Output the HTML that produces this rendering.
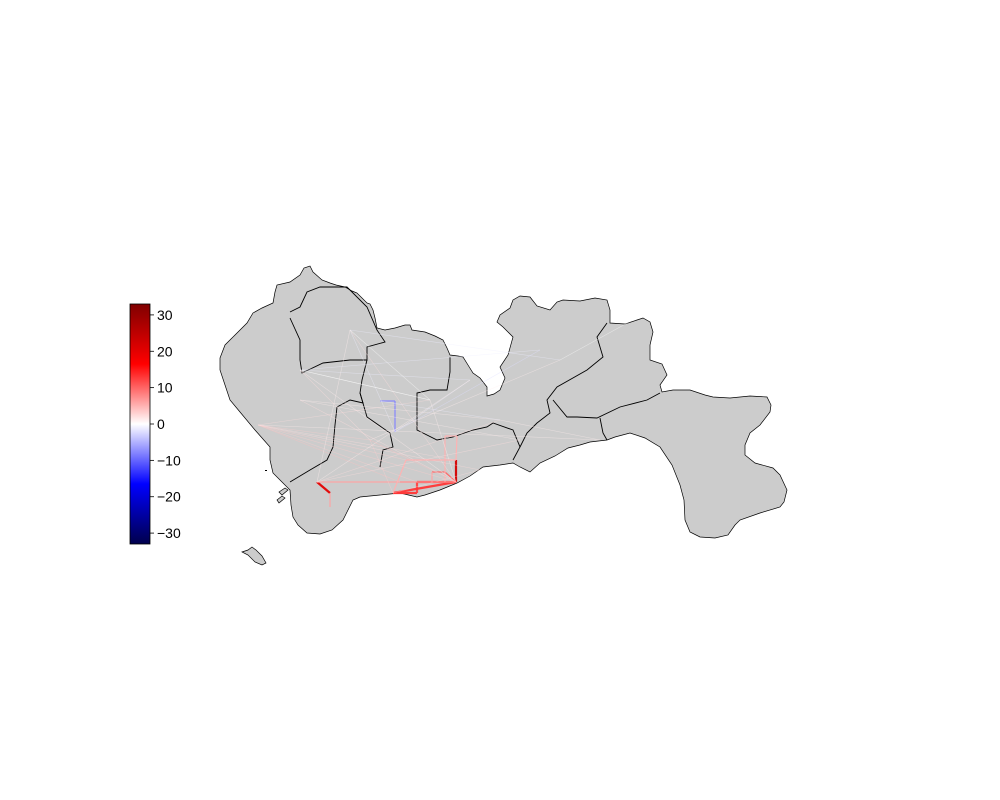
<!DOCTYPE html>
<html><head><meta charset="utf-8"><style>
html,body{margin:0;padding:0;background:#fff;}
svg{display:block;font-family:"Liberation Sans","DejaVu Sans",sans-serif;}
</style></head><body>
<svg id="chart" width="1000" height="800" viewBox="0 0 1000 800">
<defs>
<linearGradient id="seis" x1="0" y1="1" x2="0" y2="0">
<stop offset="0" stop-color="#00004c"/>
<stop offset="0.25" stop-color="#0000ff"/>
<stop offset="0.5" stop-color="#ffffff"/>
<stop offset="0.75" stop-color="#ff0000"/>
<stop offset="1" stop-color="#800000"/>
</linearGradient>
</defs>
<g id="map">
<path fill="#cccccc" stroke="#000" stroke-width="0.7" d="M220,358 L225,345 L232,338 L247,323 L253,313 L262,308 L273,303 L275,292 L277,285 L290,282 L300,275 L304,268 L310,266 L313,272 L322,280 L330,283 L336,285 L345,287 L352,291 L357,293 L362,298 L367,303 L370,304 L373,310 L375,318 L377,328 L385,330 L395,328 L405,325 L410,325 L412,330 L425,332 L435,336 L443,340 L447,348 L450,355 L458,356 L463,357 L468,365 L473,373 L480,378 L487,387 L487,396 L494,394 L500,390 L505,378 L500,367 L508,355 L513,337 L503,327 L497,322 L500,315 L510,308 L513,300 L520,296 L530,297 L537,306 L550,310 L557,302 L563,300 L580,301 L595,298 L607,300 L610,310 L610,323 L625,324 L637,320 L643,318 L650,322 L653,332 L650,345 L650,360 L662,364 L667,375 L660,385 L662,392 L673,390 L690,390 L705,395 L713,397 L730,398 L750,396 L767,397 L771,405 L770,412 L760,425 L750,433 L745,445 L745,455 L755,463 L773,468 L780,475 L787,490 L784,502 L780,507 L760,513 L740,520 L735,525 L728,535 L715,538 L700,537 L690,532 L685,520 L684,500 L680,485 L672,465 L660,447 L645,438 L630,433 L615,437 L607,440 L590,442 L580,445 L568,448 L555,456 L540,463 L530,472 L520,467 L513,463 L500,465 L483,467 L470,476 L457,483 L440,490 L425,495 L417,497 L400,493 L380,495 L360,497 L353,500 L348,510 L343,520 L332,530 L320,534 L307,533 L298,525 L293,517 L291,505 L290,490 L280,480 L273,473 L270,460 L270,447 L255,430 L240,412 L230,400 L225,385 L220,370 Z"/>
<path fill="#cccccc" stroke="#000" stroke-width="0.7" d="M279,492 L285,488 L288,490 L282,495 Z"/>
<path fill="#cccccc" stroke="#000" stroke-width="0.7" d="M277,500 L282,496 L285,498 L279,503 Z"/>
<path fill="#cccccc" stroke="#000" stroke-width="0.7" d="M242,552 L248,550 L252,547 L256,550 L262,556 L266,563 L262,565 L255,562 L248,555 Z"/>
<path fill="#000" d="M265,470 h2 v1 h-2z"/>
<g fill="none" stroke="#000" stroke-width="0.9">
<path d="M290,312 L300,307 L307,292 L320,287 L347,287 L367,307 L377,330 L385,342 L367,347 L367,360 L350,360 L323,363 L302,373 L300,360 L300,340 L290,318"/>
<path d="M367,360 L362,380 L360,393 L363,403 L350,400 L337,407 L335,425 L333,447 L327,460 L310,470 L290,482"/>
<path d="M360,393 L367,417 L390,433 L393,447 L383,450 L380,467"/>
<path d="M450,357 L450,372 L447,390 L430,390 L417,393 L417,430 L437,440 L453,437 L473,430 L487,427 L493,423 L513,430 L520,447 L513,460"/>
<path d="M607,323 L597,337 L603,357 L587,370 L557,387 L547,400 L550,413 L537,423 L527,433 L520,447"/>
<path d="M553,400 L567,417 L577,417 L597,418 L620,407 L647,400 L660,393"/>
<path d="M600,418 L603,433 L607,440"/>
</g>
</g>
<g id="flows"></g>
<g id="colorbar">
<rect x="130" y="304" width="20" height="240" fill="url(#seis)" stroke="#000" stroke-width="0.8"/>
</g>
</svg>
<script>
const NS='http://www.w3.org/2000/svg';
// colorbar data
const cbTicks=[30,20,10,0,-10,-20,-30];
const cbMin=-33, cbMax=33;
// station nodes (projected map coordinates)
const nodeX=[317,330,330,400,393,417,456,456,445,432,406,457,445,395,380,395,258,480,520,300,350,430,500,560,540,600,760,300,370,470,417,432,445];
const nodeY=[482,493,507,482,493,482,482,460,472,472,460,436,436,432,401,401,425,470,440,370,330,400,420,360,350,440,250,400,440,380,493,482,482];
// flows: origin node, destination node, value
const flowFrom=[0,1,0,3,4,30,5,7,9,8,9,12,12,11,4,10,14,15,16,16,16,17,18,16,16,16,19,19,20,20,21,22,23,24,25,26,27,28,29,19,20,22,17,23,24,18,21,27,16,29,20,14,19,3,10,28];
const flowTo  =[1,2,3,5,30,5,6,6,8,6,31,32,11,7,6,4,15,13,3,5,6,16,0,28,10,7,6,28,13,6,6,0,28,19,16,23,6,4,13,29,21,25,4,20,13,27,19,22,21,0,0,22,21,6,7,6];
const flowVal =[20,6,6,6,13,12,12,22,10,10,6,5,5,5,13,5,-8,-8,4,3,3,2,2,3,3,2,1,2,-1,2,1,2,1,-1,1,0,2,3,-1,-1,0,1,2,-1,-2,1,0,1,2,1,1,-1,0,7,5,4];
function color(v){
  let t=(v-cbMin)/(cbMax-cbMin);t=Math.max(0,Math.min(1,t));
  let r,g,b;
  if(t<0.25){const k=t/0.25;r=0;g=0;b=76+k*179;}
  else if(t<0.5){const k=(t-0.25)/0.25;r=k*255;g=k*255;b=255;}
  else if(t<0.75){const k=(t-0.5)/0.25;r=255;g=255*(1-k);b=255*(1-k);}
  else{const k=(t-0.75)/0.25;r=255-k*127;g=0;b=0;}
  return `rgb(${r|0},${g|0},${b|0})`;
}
const fl=document.getElementById('flows');
for(let i=0;i<flowFrom.length;i++){
  const v=flowVal[i],a=flowFrom[i],b=flowTo[i];
  const l=document.createElementNS(NS,'line');
  l.setAttribute('x1',nodeX[a]);l.setAttribute('y1',nodeY[a]);
  l.setAttribute('x2',nodeX[b]);l.setAttribute('y2',nodeY[b]);
  l.setAttribute('stroke',color(v));
  const m=Math.abs(v);
  l.setAttribute('stroke-width',m>10?2.2:m>4?1.2:0.6);
  l.setAttribute('stroke-opacity',m>4?0.95:0.5);
  
  
  fl.appendChild(l);
}
const cb=document.getElementById('colorbar');
const cbY=v=>304+(cbMax-v)/(cbMax-cbMin)*240;
cbTicks.forEach(v=>{
  const y=cbY(v);
  const t=document.createElementNS(NS,'line');
  t.setAttribute('x1',150);t.setAttribute('x2',154);t.setAttribute('y1',y);t.setAttribute('y2',y);
  t.setAttribute('stroke','#000');t.setAttribute('stroke-width',0.8);
  
  
  cb.appendChild(t);
  const tx=document.createElementNS(NS,'text');
  tx.setAttribute('x',157);tx.setAttribute('y',y+5);tx.setAttribute('font-size',14);
  tx.textContent=v<0?'\u2212'+Math.abs(v):String(v);
  
  
  cb.appendChild(tx);
});
</script>
</body></html>
